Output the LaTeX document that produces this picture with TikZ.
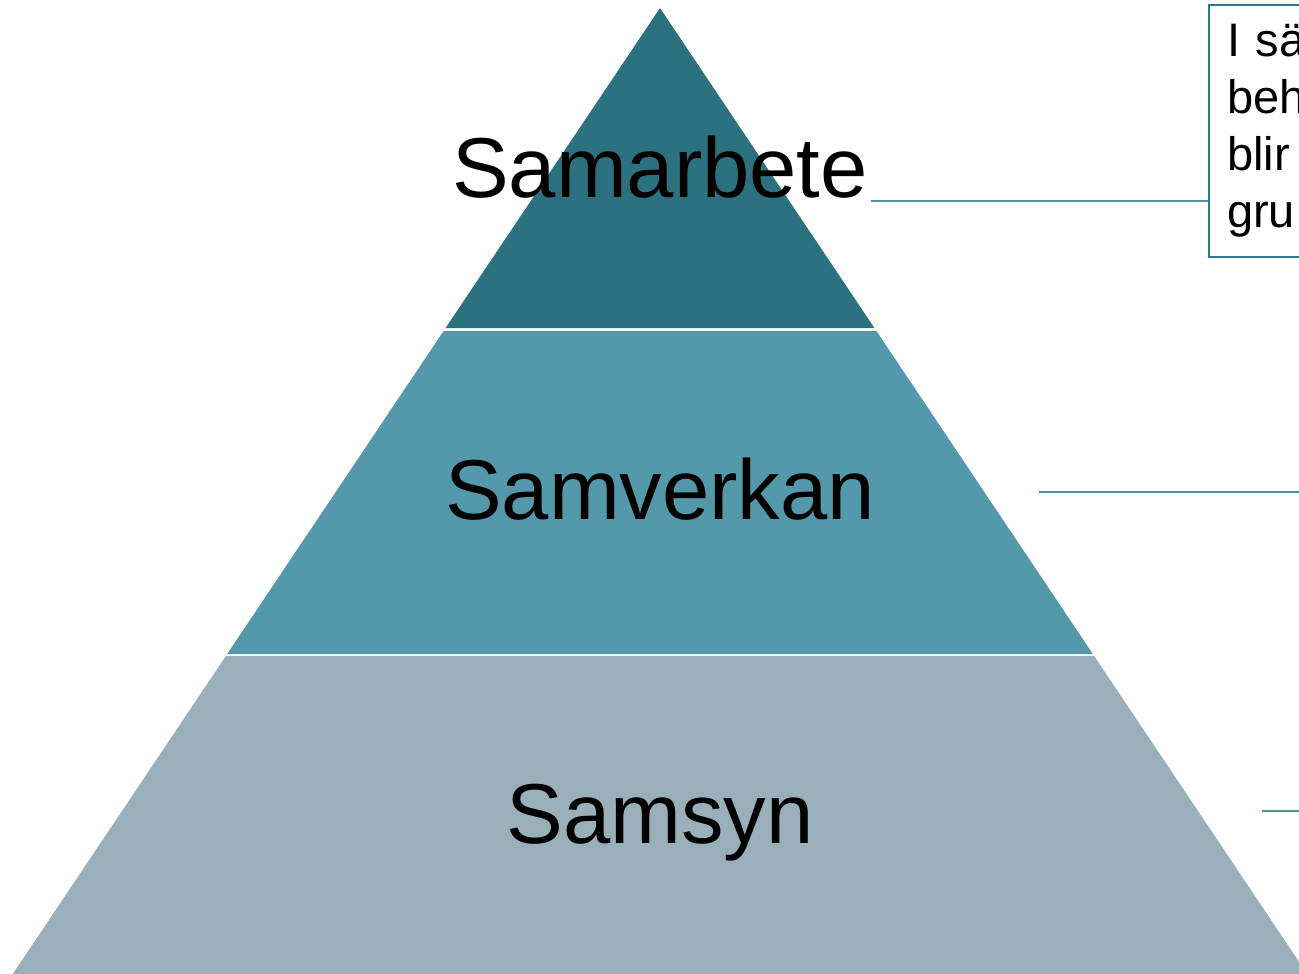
\documentclass[tikz,border=0pt]{standalone}
\usepackage{fontspec}
\setmainfont{Liberation Sans}
\usetikzlibrary{positioning, calc}

\definecolor{tierA}{HTML}{2B717F}
\definecolor{tierB}{HTML}{5398AB}
\definecolor{tierC}{HTML}{99B0BB}
\definecolor{linkcol}{HTML}{4F8FA0}
\definecolor{boxcol}{HTML}{2E7A8C}

\begin{document}
\begin{tikzpicture}[x=1pt, y=-1pt,
    tierlabel/.style={font=\fontsize{85}{100}\selectfont, anchor=base, inner sep=0pt},
    callout/.style={draw=boxcol, line width=2pt, anchor=north west, align=left,
      text width=360pt, inner xsep=18pt, minimum height=252pt,
      font=\fontsize{47}{57}\selectfont},
    link/.style={draw=linkcol, line width=1.3pt}]
  \useasboundingbox (0,0) rectangle (1299,974);
  \clip (0,0) rectangle (1299,974);

  % Tiers
  \foreach \yt/\yb/\c in {8/328/tierA, 331/654/tierB, 656/974/tierC}
  \fill[\c] ({660-0.67*(\yt-8)},\yt) -- ({660+0.67*(\yt-8)},\yt)
    -- ({660+0.67*(\yb-8)},\yb) -- ({660-0.67*(\yb-8)},\yb) -- cycle;

  % Nodes
  \node[tierlabel] (samarbete) at (660,197) {Samarbete};
  \node[tierlabel] (samverkan) at (660,519) {Samverkan};
  \node[tierlabel] (samsyn) at (660,843) {Samsyn};
  \node[callout] (note1) at (1208,4) {I sä\\beh\\blir\\gru};

  \coordinate (link1) at (871,201);
  \coordinate (link2) at (1039,492);
  \coordinate (link2end) at (1299,492);
  \coordinate (link3) at (1262,811);
  \coordinate (link3end) at (1299,811);

  % Lines
  \draw[link] (link1) -- (link1 -| note1.west);
  \draw[link] (link2) -- (link2end);
  \draw[link] (link3) -- (link3end);
\end{tikzpicture}
\end{document}
